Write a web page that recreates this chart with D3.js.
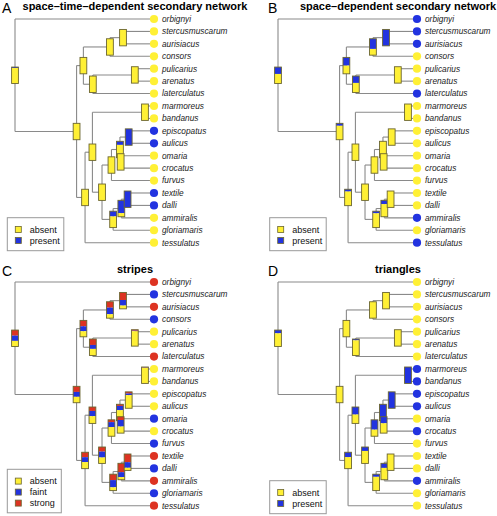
<!DOCTYPE html>
<html><head><meta charset="utf-8">
<script src="https://cdn.jsdelivr.net/npm/d3@7"></script>
<style>body{margin:0;background:#fff}svg{display:block}</style>
</head><body>
<svg id="c" width="497" height="516"></svg>
<script>
// ---------- data ----------
const tips = ["orbignyi","stercusmuscarum","aurisiacus","consors","pulicarius","arenatus","laterculatus","marmoreus","bandanus","episcopatus","aulicus","omaria","crocatus","furvus","textile","dalli","ammiralis","gloriamaris","tessulatus"];
const nodeIds    = ["root","big","upper","sac","sa","pal","pa","lower","mid","mb","rest","eaocf","eaoc","ea","oc","tdag","tda","td"];
const nodeKids   = [["orbignyi","big"],["upper","lower"],["sac","pal"],["sa","consors"],["stercusmuscarum","aurisiacus"],["pa","laterculatus"],["pulicarius","arenatus"],["mid","tessulatus"],["mb","rest"],["marmoreus","bandanus"],["eaocf","tdag"],["eaoc","furvus"],["ea","oc"],["episcopatus","aulicus"],["omaria","crocatus"],["tda","gloriamaris"],["td","ammiralis"],["textile","dalli"]];
const nodeDepth  = [0,0.443,0.492,0.683,0.777,0.56,0.862,0.504,0.557,0.935,0.626,0.694,0.755,0.818,0.76,0.706,0.765,0.81];

const panelLetters = ["A","B","C","D"];
const panelTitles = ["space\u2013time\u2013dependent secondary network","space\u2013dependent secondary network","stripes","triangles"];

// tip states: Y absent, B present/faint, R strong
const tipsA = "YYYYYYYYYBBYYYBBYYY".split("");
const tipsB = "BBBYYYBYYYYYYYYYBYB".split("");
const tipsC = "RBRBYYRYYYYBYBRBRBR".split("");
const tipsD = "YYYYYYYBBBBYBYYYBYY".split("");

// node probability of "present" (A, B, D) in nodeIds order
const presentA = [0.06,0,0,0,0,0,0,0,0,0,0,0,0.22,1,0,0.32,0.78,1];
const presentB = [0.42,0.15,0.5,0.62,1,0.42,0,0.14,0,0,0,0,0,0,0,0.13,0.23,0];
const presentD = [0.2,0,0,0,0,0.08,0,0.3,0.46,1,0.24,0.6,0.88,1,0.4,0.16,0.28,0];
// panel C: strong and faint shares
const strongC = [0.34,0.34,0.36,0.36,0.46,0.36,0.06,0.3,0.24,0.03,0.28,0.14,0.1,0.1,0.2,0.36,0.54,0.5];
const faintC  = [0.32,0.3,0.3,0.4,0.34,0.24,0.03,0.3,0.32,0.02,0.36,0.3,0.26,0.1,0.4,0.44,0.3,0.34];

const legendLabels = [["absent","present"],["absent","present"],["absent","faint","strong"],["absent","present"]];

// ---------- drawing ----------
const col = {Y:"#fff035", B:"#2233e0", R:"#dd3322"};
const svg = d3.select("#c");
const offsets = [[0,0],[263,0],[0,263],[263,263]];
const x = d3.scaleLinear().domain([0,1]).range([15,154]);
const y = d3.scaleLinear().domain([0,tips.length-1]).range([19,242.7]);

// compute positions
const pos = {};
tips.forEach((t,i)=>{pos[t]={x:x(1),y:y(i),tip:true};});
for (let k=nodeIds.length-1;k>=0;k--){
  const kids = nodeKids[k];
  // ensure children computed (recursive)
}
function place(id){
  if (pos[id]) return pos[id];
  const k = nodeIds.indexOf(id);
  const ys = nodeKids[k].map(c=>place(c).y);
  pos[id] = {x:x(nodeDepth[k]), y:(d3.min(ys)+d3.max(ys))/2, tip:false};
  return pos[id];
}
place("root");

function nodeStack(p, k){
  if (p===2) return [["R",strongC[k]],["B",faintC[k]],["Y",Math.max(0,1-strongC[k]-faintC[k])]];
  const v = [presentA,presentB,null,presentD][p][k];
  return [["B",v],["Y",1-v]];
}

panelLetters.forEach((L,p)=>{
  const [ox,oy] = offsets[p];
  const g = svg.append("g").attr("transform",`translate(${ox},${oy})`);
  const tipState = [tipsA,tipsB,tipsC,tipsD][p];
  // letter and title
  g.append("text").attr("x",p%2?5:2).attr("y",12.7).text(L)
    .attr("font-family","Liberation Sans, Arial, sans-serif").attr("font-size",14);
  g.append("text").attr("x",135).attr("y",10.3).attr("text-anchor","middle").text(panelTitles[p])
    .attr("font-family","Liberation Sans, Arial, sans-serif").attr("font-size",11).attr("font-weight","bold");
  // branches
  const br = g.append("g").attr("stroke","#8a8a8a").attr("stroke-width",1.1).attr("fill","none");
  nodeIds.forEach((id,k)=>{
    const n = pos[id];
    const kids = nodeKids[k].map(c=>pos[c]);
    br.append("line").attr("x1",n.x).attr("x2",n.x).attr("y1",d3.min(kids,d=>d.y)).attr("y2",d3.max(kids,d=>d.y));
    kids.forEach(c=>br.append("line").attr("x1",n.x).attr("x2",c.x).attr("y1",c.y).attr("y2",c.y));
  });
  // tips
  tips.forEach((t,i)=>{
    g.append("circle").attr("cx",pos[t].x).attr("cy",pos[t].y).attr("r",4.1).attr("fill",col[tipState[i]]);
    g.append("text").attr("x",162).attr("y",pos[t].y+2.9).text(t)
      .attr("font-family","Liberation Sans, Arial, sans-serif").attr("font-size",8.3)
      .attr("font-style","italic").attr("fill","#222");
  });
  // node boxes
  const bw=6.8, bh=16.4;
  nodeIds.forEach((id,k)=>{
    const n = pos[id];
    const st = nodeStack(p,k);
    let yy = n.y - bh/2;
    st.forEach(([c,v])=>{
      if (v<=0) return;
      g.append("rect").attr("x",n.x-bw/2).attr("y",yy).attr("width",bw).attr("height",v*bh).attr("fill",col[c]);
      yy += v*bh;
    });
    g.append("rect").attr("x",n.x-bw/2).attr("y",n.y-bh/2).attr("width",bw).attr("height",bh)
      .attr("fill","none").attr("stroke","#6b6530").attr("stroke-width",0.9);
  });
  // legend
  const labs = legendLabels[p];
  const lx = p%2?269.7-263:7.3, ly = p<2?217.7:(p===2?469.3-263:480.7-263);
  const lw = p===2?54:56.5, lh = labs.length===3?43.5:33;
  g.append("rect").attr("x",lx).attr("y",ly).attr("width",lw).attr("height",lh)
    .attr("fill","#fff").attr("stroke","#999").attr("stroke-width",1);
  labs.forEach((lab,i)=>{
    const cy = ly + 11.8 + i*11;
    const c = ["Y", "B", "R"][i];
    g.append("rect").attr("x",lx+8).attr("y",cy-3).attr("width",6).attr("height",6)
      .attr("fill",col[c]).attr("stroke","#6b6530").attr("stroke-width",0.8);
    g.append("text").attr("x",lx+22.5).attr("y",cy+3.2).text(lab)
      .attr("font-family","Liberation Sans, Arial, sans-serif").attr("font-size",9).attr("fill","#111");
  });
});
</script>
</body></html>
